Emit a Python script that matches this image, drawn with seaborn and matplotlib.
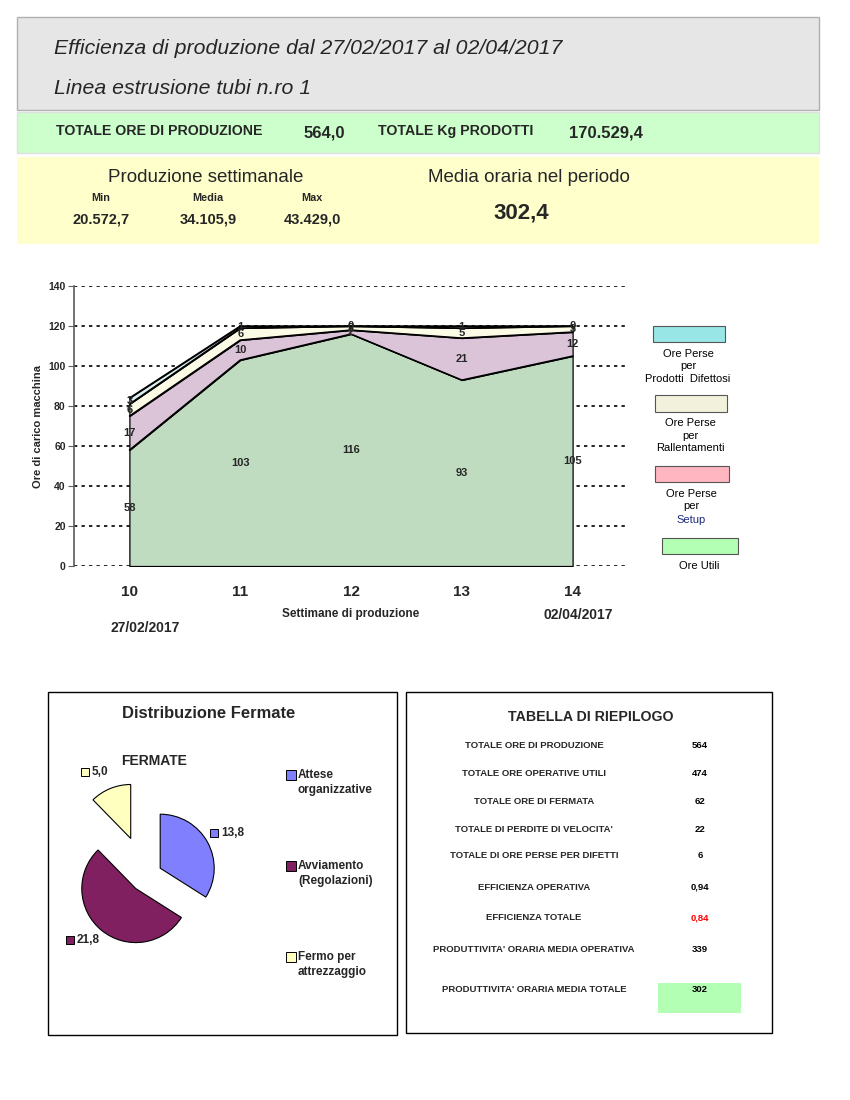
import numpy as np
import pandas as pd
import matplotlib
matplotlib.use("Agg")
import matplotlib.pyplot as plt
from matplotlib.patches import Rectangle
import seaborn as sns

# --- data ---
weeks = [10, 11, 12, 13, 14]
ore_utili = [58, 103, 116, 93, 105]
ore_setup = [17, 10, 2, 21, 12]
ore_rallentamenti = [6, 6, 2, 5, 3]
ore_difetti = [3, 1, 0, 1, 0]
layer_names = ["Ore Utili", "Ore Perse per Setup", "Ore Perse per Rallentamenti",
               "Ore Perse per Prodotti Difettosi"]
layer_colors = ["#c0dcc0", "#dcc4d8", "#fcfce6", "#dcf0f2"]

fermate_labels = ["Attese\norganizzative", "Avviamento\n(Regolazioni)", "Fermo per\nattrezzaggio"]
fermate_values = [13.8, 21.8, 5.0]
fermate_colors = ["#8080ff", "#802060", "#ffffc0"]

riepilogo_labels = ["TOTALE ORE DI PRODUZIONE", "TOTALE ORE OPERATIVE UTILI", "TOTALE ORE DI FERMATA",
                    "TOTALE DI PERDITE DI VELOCITA'", "TOTALE DI ORE PERSE PER DIFETTI",
                    "EFFICIENZA OPERATIVA", "EFFICIENZA TOTALE",
                    "PRODUTTIVITA' ORARIA MEDIA OPERATIVA", "PRODUTTIVITA' ORARIA MEDIA TOTALE"]
riepilogo_values = ["564", "474", "62", "22", "6", "0,94", "0,84", "339", "302"]

sns.set_theme(style="white")
plt.rcParams['font.family'] = ['Liberation Sans', 'DejaVu Sans']

W, H = 850, 1100
fig = plt.figure(figsize=(8.5, 11), dpi=100)


def fx(x):
    return x / W


def fy(y):
    return 1 - y / H


def box(x0, y0, x1, y1, fc, ec="none", lw=1.0):
    fig.patches.append(Rectangle((fx(x0), fy(y1)), (x1 - x0) / W, (y1 - y0) / H,
                                 transform=fig.transFigure, facecolor=fc, edgecolor=ec, lw=lw))


def txt(x, y, s, **kw):
    kw.setdefault("ha", "center")
    kw.setdefault("va", "center")
    fig.text(fx(x), fy(y), s, **kw)


# --- header ---
box(17, 17, 819, 110, "#e6e6e6", ec="#b0b0b0")
box(17, 112, 819, 153, "#ccffcc", ec="#e0e0e0")
box(17, 157, 819, 244, "#ffffcc")
txt(54, 48, "Efficienza di produzione dal 27/02/2017 al 02/04/2017", ha="left", fontsize=15.3, style="italic")
txt(54, 88, "Linea estrusione tubi n.ro 1", ha="left", fontsize=15.3, style="italic")
txt(56, 131, "TOTALE ORE DI PRODUZIONE", ha="left", fontsize=10.2, weight="bold")
txt(324, 133, "564,0", fontsize=12, weight="bold")
txt(378, 131, "TOTALE Kg PRODOTTI", ha="left", fontsize=10.2, weight="bold")
txt(606, 133, "170.529,4", fontsize=12, weight="bold")
txt(206, 177, "Produzione settimanale", fontsize=13.5)
txt(529, 178, "Media oraria nel periodo", fontsize=13.5)
for xc, lab, val in [(101, "Min", "20.572,7"), (208, "Media", "34.105,9"), (312, "Max", "43.429,0")]:
    txt(xc, 198, lab, fontsize=7.8, weight="bold")
    txt(xc, 219, val, fontsize=10.5, weight="bold")
txt(521, 213, "302,4", fontsize=16, weight="bold")

# --- stacked area chart ---
ax = fig.add_axes([fx(74), fy(566), (628 - 74) / W, (566 - 286) / H])
layers = [ore_utili, ore_setup, ore_rallentamenti, ore_difetti]
base = np.zeros(len(weeks))
for vals, col in zip(layers, layer_colors):
    top = base + np.array(vals)
    ax.fill_between(weeks, base, top, facecolor=col, edgecolor="black", lw=0.9, zorder=2)
    sns.lineplot(x=weeks, y=top, color="black", lw=1.0, ax=ax, zorder=3)
    for w, b, v in zip(weeks, base, vals):
        ax.text(w, b + v / 2, f"{v}", ha="center", va="center", fontsize=8, weight="bold", zorder=4)
    base = top
ax.set_xlim(9.5, 14.5)
ax.set_ylim(0, 140)
ax.set_yticks(range(0, 141, 20))
ax.set_xticks(weeks)
ax.set_axisbelow(True)
ax.yaxis.grid(True, color="black", linestyle=(0, (2, 2.5)), lw=1.2)
ax.xaxis.grid(False)
for s in ["top", "right", "bottom"]:
    ax.spines[s].set_visible(False)
ax.spines["left"].set_color("#606060")
ax.tick_params(axis="y", left=True, length=4, width=0.8, color="#606060", labelsize=7.5, pad=2)
ax.tick_params(axis="x", bottom=False, labelsize=11, pad=8)
for t in ax.get_yticklabels() + ax.get_xticklabels():
    t.set_fontweight("bold")
ax.set_ylabel("Ore di carico macchina", fontsize=8, weight="bold", labelpad=4)
ax.set_xlabel("Settimane di produzione", fontsize=8.5, weight="bold", labelpad=6)
ax.patch.set_alpha(0)
txt(145, 628, "27/02/2017", fontsize=10, weight="bold")
txt(578, 615, "02/04/2017", fontsize=10, weight="bold")

# legend of area chart
leg_items = [
    ((653, 326, 725, 342), "#99e6e6", ["Ore Perse", "per", "Prodotti  Difettosi"], [354, 366, 379]),
    ((655, 395, 727, 412), "#f2f2dc", ["Ore Perse", "per", "Rallentamenti"], [423, 436, 448]),
    ((655, 466, 729, 482), "#ffb6c1", ["Ore Perse", "per", "Setup"], [494, 506, 520]),
    ((662, 538, 738, 554), "#b3ffb3", ["Ore Utili"], [566]),
]
for (x0, y0, x1, y1), col, lines, ys in leg_items:
    box(x0, y0, x1, y1, col, ec="#555555", lw=0.8)
    for line, yy in zip(lines, ys):
        c = "#1a2a80" if line == "Setup" else "black"
        txt((x0 + x1) / 2 - 1, yy, line, fontsize=8, color=c)

# --- pie panel ---
box(48, 692, 397, 1035, "none", ec="black", lw=1.0)
txt(209, 714, "Distribuzione Fermate", fontsize=11.9, weight="bold")
txt(154, 761, "FERMATE", fontsize=10, weight="bold")
r = 54
cx, cy = 146, 876
pax = fig.add_axes([fx(cx - 2 * r), fy(cy + 2 * r), 4 * r / W, 4 * r / H])
pax.pie(fermate_values, colors=fermate_colors, startangle=90, counterclock=False,
        explode=[0.3, 0.3, 0.75], radius=1,
        wedgeprops=dict(edgecolor="black", lw=0.8))
pax.set_xlim(-2, 2)
pax.set_ylim(-2, 2)
pax.set_aspect("auto")
pax.axis("off")

for (sx, sy), v, col in zip([(214, 833), (70, 940), (85, 772)], fermate_values, fermate_colors):
    fig.add_artist(plt.Line2D([fx(sx)], [fy(sy)], marker="s", ms=6, mfc=col, mec="black",
                              mew=0.7, transform=fig.transFigure))
    txt(sx + 7, sy, f"{v:.1f}".replace(".", ","), ha="left", fontsize=8.5, weight="bold")

for yy, lab, col in zip([775, 866, 957], fermate_labels, fermate_colors):
    fig.add_artist(plt.Line2D([fx(291)], [fy(yy)], marker="s", ms=6.5, mfc=col, mec="black",
                              mew=0.7, transform=fig.transFigure))
    first, second = lab.split("\n")
    txt(298, yy, first, ha="left", fontsize=8.5, weight="bold")
    txt(298, yy + 15, second, ha="left", fontsize=8.5, weight="bold")

# --- summary table ---
box(406, 692, 772, 1033, "none", ec="black", lw=1.0)
txt(591, 717, "TABELLA DI RIEPILOGO", fontsize=10.2, weight="bold")
box(658, 983, 741, 1013, "#b3ffb3")
row_y = [746, 774, 801, 829, 856, 887, 918, 950, 990]
for yy, lab, val in zip(row_y, riepilogo_labels, riepilogo_values):
    txt(534, yy, lab, fontsize=6.8, weight="bold")
    txt(700, yy, val, fontsize=6.8, weight="bold", color="red" if val == "0,84" else "black")

fig.savefig("out.png", dpi=100, facecolor="white")
